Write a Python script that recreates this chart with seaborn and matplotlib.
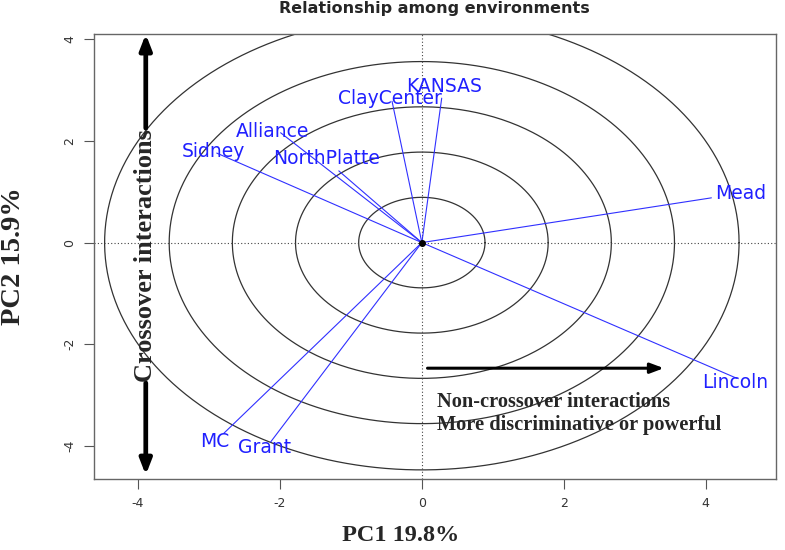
"""GGE biplot: relationship among environments."""

import matplotlib
matplotlib.use("Agg")
import matplotlib.pyplot as plt
import numpy as np
import pandas as pd
import seaborn as sns

# environment vectors (end of line) and label positions, PC1 / PC2 scores
ENVS = ["Sidney", "Alliance", "NorthPlatte", "ClayCenter", "KANSAS",
        "Mead", "Lincoln", "MC", "Grant"]
PC1_END = [-2.89, -1.99, -1.17, -0.42, 0.28, 4.08, 4.44, -2.79, -2.13]
PC2_END = [1.76, 2.16, 1.41, 2.78, 2.84, 0.88, -2.67, -3.75, -3.92]
LABEL_X = [-2.94, -2.10, -1.34, -0.45, 0.31, 4.49, 4.42, -2.92, -2.21]
LABEL_Y = [1.80, 2.18, 1.65, 2.84, 3.06, 0.96, -2.75, -3.92, -4.02]

CIRCLE_RADII = [0.89, 1.78, 2.67, 3.56, 4.47]

XTICKS = [-4, -2, 0, 2, 4]
YTICKS = [-4, -2, 0, 2, 4]


def main() -> None:
    sns.set_style("white")
    plt.rcParams["font.family"] = ["DejaVu Sans"]

    fig = plt.figure(figsize=(7.85, 5.5), dpi=100)
    ax = fig.add_axes([0.1197, 0.129, 0.8688, 0.809])

    # concentric circles
    theta = np.linspace(0, 2 * np.pi, 400)
    circ = pd.concat([
        pd.DataFrame({"x": r * np.cos(theta), "y": r * np.sin(theta), "r": r})
        for r in CIRCLE_RADII
    ])
    sns.lineplot(data=circ, x="x", y="y", units="r", estimator=None, sort=False,
                 color="#333333", linewidth=0.9, ax=ax)

    ax.axhline(0, color="#444444", linestyle=(0, (1, 2)), linewidth=0.8)
    ax.axvline(0, color="#444444", linestyle=(0, (1, 2)), linewidth=0.8)

    # environment vectors
    rows = []
    for env, x, y in zip(ENVS, PC1_END, PC2_END):
        rows.append({"env": env, "x": 0.0, "y": 0.0})
        rows.append({"env": env, "x": x, "y": y})
    vec = pd.DataFrame(rows)
    sns.lineplot(data=vec, x="x", y="y", units="env", estimator=None, sort=False,
                 color="#3030ff", linewidth=0.8, ax=ax)
    ax.plot([0], [0], "o", color="black", markersize=4)

    for env, lx, ly in zip(ENVS, LABEL_X, LABEL_Y):
        ax.text(lx, ly, env, color="#2020ff", fontsize=13.5,
                ha="center", va="center")

    # annotation arrows
    arrow_kw = dict(arrowstyle="-|>,head_length=0.9,head_width=0.35",
                    color="black", lw=3.4, shrinkA=0, shrinkB=0)
    ax.annotate("", xy=(-3.89, 4.1), xytext=(-3.89, 2.25), arrowprops=arrow_kw)
    ax.annotate("", xy=(-3.89, -4.57), xytext=(-3.89, -2.76), arrowprops=arrow_kw)
    ax.text(-3.89, -0.25, "Crossover interactions", rotation=90, ha="center",
            va="center", fontsize=19, fontweight="bold",
            family="Liberation Serif")

    arrow_kw2 = dict(arrowstyle="-|>,head_length=0.8,head_width=0.3",
                     color="black", lw=2.2, shrinkA=0, shrinkB=0)
    ax.annotate("", xy=(3.41, -2.47), xytext=(0.08, -2.47), arrowprops=arrow_kw2)
    ax.text(0.21, -3.36, "Non-crossover interactions\nMore discriminative or powerful",
            ha="left", va="center", fontsize=14.7, fontweight="bold",
            family="Liberation Serif", linespacing=1.15)

    ax.set_xlim(-4.62, 4.99)
    ax.set_ylim(-4.65, 4.1)
    ax.set_xticks(XTICKS)
    ax.set_yticks(YTICKS)
    ax.set_xticklabels([str(t) for t in XTICKS], color="#333333", fontsize=9)
    ax.set_yticklabels([str(t) for t in YTICKS], color="#333333", fontsize=9,
                       rotation=90, va="center")
    ax.tick_params(axis="both", length=7, width=0.8, color="#555555",
                   direction="out", bottom=True, left=True, pad=6)
    for sp in ax.spines.values():
        sp.set_color("#666666")
        sp.set_linewidth(1.0)

    ax.set_xlabel("")
    ax.set_ylabel("")
    fig.text(0.51, 0.026, "PC1 19.8%", ha="center", va="center", fontsize=17.5,
             fontweight="bold", family="Liberation Serif")
    fig.text(0.017, 0.535, "PC2 15.9%", ha="center", va="center", fontsize=20.5,
             fontweight="bold", family="Liberation Serif", rotation=90)
    fig.text(0.553, 0.984, "Relationship among environments", ha="center",
             va="center", fontsize=11.5, fontweight="bold")

    fig.savefig("out.png", dpi=100)


if __name__ == "__main__":
    main()
